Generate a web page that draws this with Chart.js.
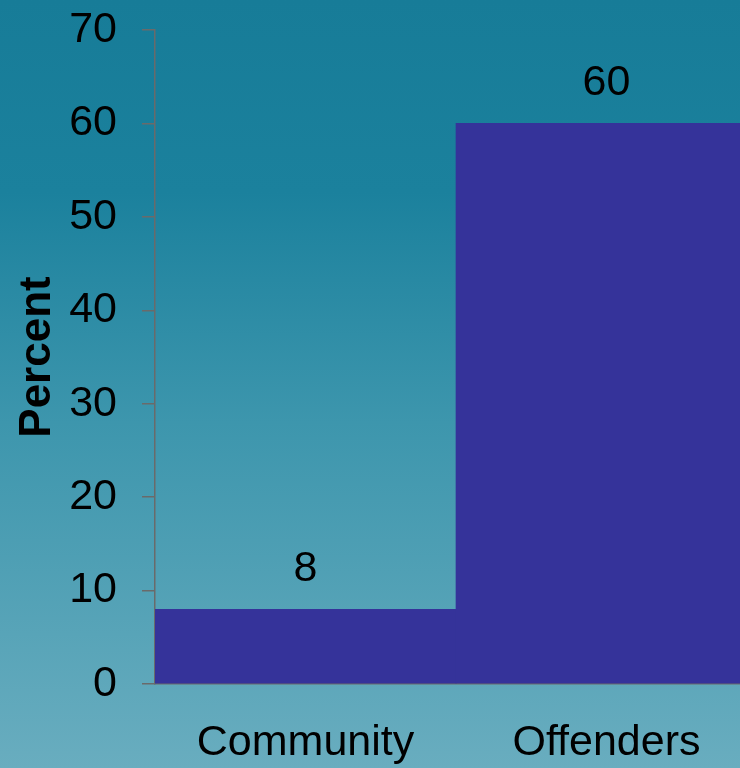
<!DOCTYPE html>
<html>
<head>
<meta charset="utf-8">
<script src="https://cdn.jsdelivr.net/npm/chart.js@4"></script>
<style>
    html, body {
        margin: 0;
        padding: 0;
        width: 740px;
        height: 768px;
        overflow: hidden;
        background: linear-gradient(to bottom, #177c98 0%, #1b819d 25%, #3d96ad 55%, #69adbf 100%);
    }
    .chart {
        position: relative;
        width: 760px;
        height: 768px;
    }
</style>
</head>
<body>
<div class="chart"><canvas id="chart"></canvas></div>
<script>
// values
const categories = ["Community", "Offenders"];
const percents = [8, 60];
const yTicks = [0, 10, 20, 30, 40, 50, 60, 70];

const FONT = "'Liberation Sans', Arial, sans-serif";
const AXIS_GREY = "#6a6a6a";

// draws the value above each bar
const barValues = {
    id: "barValues",
    afterDatasetsDraw(chart) {
        const ctx = chart.ctx;
        ctx.save();
        ctx.font = "43px " + FONT;
        ctx.fillStyle = "#000";
        ctx.textAlign = "center";
        ctx.textBaseline = "middle";
        chart.getDatasetMeta(0).data.forEach((bar, i) => {
            ctx.fillText(String(percents[i]), bar.x, bar.y - 40);
        });
        ctx.restore();
    }
};

new Chart(document.getElementById("chart"), {
    type: "bar",
    data: {
        labels: categories,
        datasets: [{
            label: "Percent",
            data: percents,
            backgroundColor: "#35339a",
            borderWidth: 0,
            barPercentage: 1,
            categoryPercentage: 1
        }]
    },
    options: {
        responsive: true,
        maintainAspectRatio: false,
        animation: false,
        layout: { padding: { top: 30, right: 3, left: 0, bottom: 0 } },
        plugins: {
            legend: { display: false },
            tooltip: { enabled: false }
        },
        scales: {
            y: {
                min: 0,
                max: 70,
                afterBuildTicks: (axis) => { axis.ticks = yTicks.map(v => ({ value: v })); },
                afterFit: (axis) => {
                    axis.width = 155;
                    axis.paddingTop = 0;
                    axis.paddingBottom = 0;
                },
                ticks: {
                    color: "#000",
                    font: { family: FONT, size: 43 },
                    padding: 25
                },
                grid: {
                    drawOnChartArea: false,
                    tickLength: 13,
                    color: AXIS_GREY,
                    lineWidth: 1.5
                },
                border: { color: AXIS_GREY, width: 1.5 },
                title: {
                    display: true,
                    text: "Percent",
                    color: "#000",
                    font: { family: FONT, size: 44, weight: "bold" },
                    padding: { top: 11, bottom: 0 }
                }
            },
            x: {
                afterFit: (axis) => { axis.height = 84; },
                ticks: {
                    color: "#000",
                    font: { family: FONT, size: 43 },
                    padding: 33
                },
                grid: { display: false, drawTicks: false },
                border: { display: true, color: AXIS_GREY, width: 1.5 }
            }
        }
    },
    plugins: [barValues]
});
</script>
</body>
</html>
